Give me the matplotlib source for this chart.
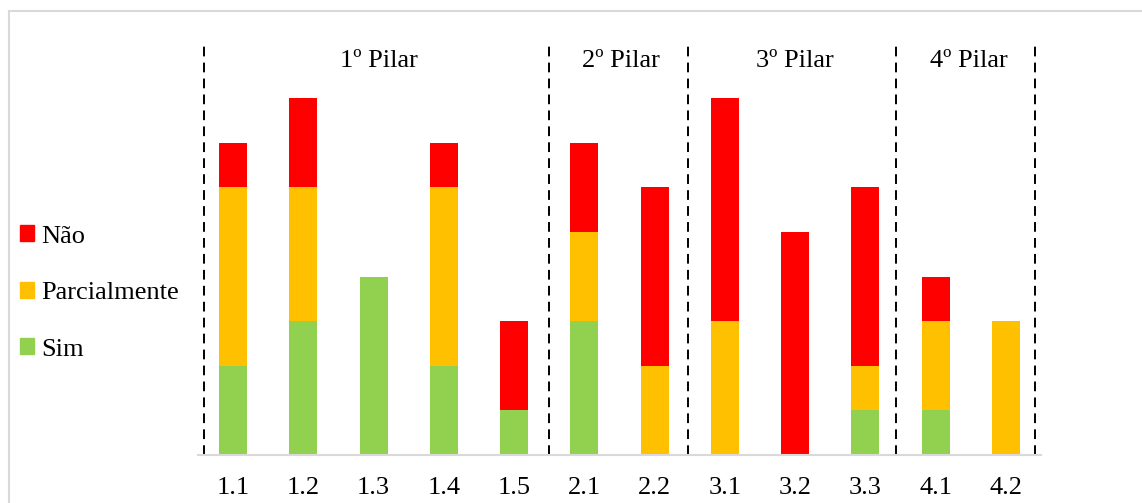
import matplotlib
matplotlib.use("Agg")
import matplotlib.pyplot as plt
from matplotlib.lines import Line2D
from matplotlib.patches import Patch
import numpy as np

categories = ["1.1", "1.2", "1.3", "1.4", "1.5", "2.1", "2.2", "3.1", "3.2", "3.3", "4.1", "4.2"]
sim = [2, 3, 4, 2, 1, 3, 0, 0, 0, 1, 1, 0]
parcialmente = [4, 3, 0, 4, 0, 2, 2, 3, 0, 1, 2, 3]
nao = [1, 2, 0, 1, 2, 2, 4, 5, 5, 4, 1, 0]

pillar_names = ["1º Pilar", "2º Pilar", "3º Pilar", "4º Pilar"]
separators = [-0.41, 4.49, 6.47, 9.44, 11.42]

plt.rcParams["font.family"] = ["Liberation Serif", "DejaVu Serif"]
FS = 19

W, H = 1142, 503
fig = plt.figure(figsize=(W / 100, H / 100), dpi=100)
ax = fig.add_axes([198 / W, (H - 455) / H, (1041 - 198) / W, 446 / H])

x = np.arange(len(categories))
green, yellow, red = "#92D050", "#FFC000", "#FF0000"
sim_a = np.array(sim)
par_a = np.array(parcialmente)
nao_a = np.array(nao)
ax.bar(x, sim_a, width=0.4, color=green, label="Sim")
ax.bar(x, par_a, width=0.4, bottom=sim_a, color=yellow, label="Parcialmente")
ax.bar(x, nao_a, width=0.4, bottom=sim_a + par_a, color=red, label="Não")

ax.set_xlim(-0.5, len(categories) - 0.5)
ax.set_ylim(0, 10)

for s in ["top", "right", "left"]:
    ax.spines[s].set_visible(False)
ax.spines["bottom"].set_color("#d9d9d9")
ax.spines["bottom"].set_linewidth(1.5)
ax.set_yticks([])
ax.set_xticks(x)
ax.set_xticklabels(categories, fontsize=FS)
ax.tick_params(axis="x", length=0, pad=16)

for sx in separators:
    ax.plot([sx, sx], [0, 9.2], color="black", lw=1.4, ls=(0, (5, 3.2)), clip_on=False)

for i, name in enumerate(pillar_names):
    cx = (separators[i] + separators[i + 1]) / 2 + 0.04
    ax.text(cx, 8.83, name, ha="center", va="center", fontsize=FS)

handles = [Patch(color=red, label="Não"), Patch(color=yellow, label="Parcialmente"),
           Patch(color=green, label="Sim")]
fig.legend(handles=handles, loc="center left", bbox_to_anchor=(0.008, (H - 293) / H),
           frameon=False, fontsize=FS, handlelength=0.55, handleheight=0.55,
           handletextpad=0.25, labelspacing=1.3, borderaxespad=0)

# light frame around the chart area
fig.add_artist(Line2D([9 / W, 1.0], [1 - 11 / H, 1 - 11 / H], color="#d9d9d9", lw=1.5,
                      transform=fig.transFigure))
fig.add_artist(Line2D([9 / W, 9 / W], [0, 1 - 11 / H], color="#d9d9d9", lw=1.5,
                      transform=fig.transFigure))

fig.savefig("out.png", dpi=100)
